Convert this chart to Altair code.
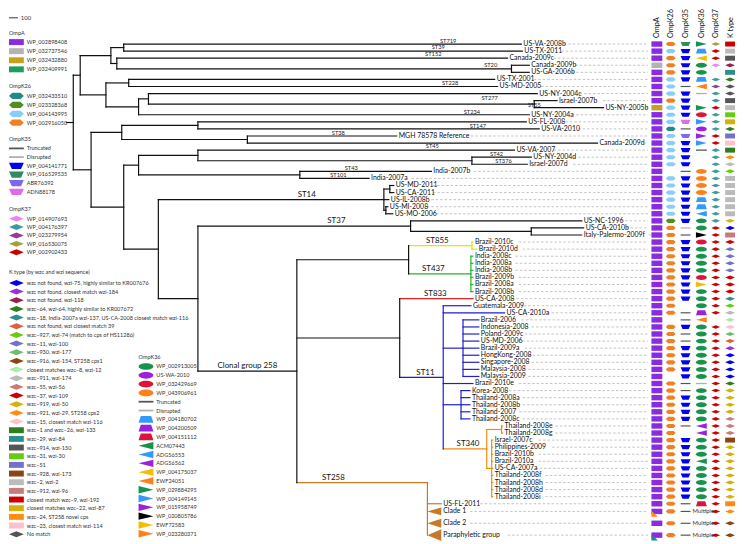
import altair as alt
import pandas as pd

W, H = 737, 536          # svg size (page px 8..745, 8..544)
FONT = "Lato"

# ---------------- data ----------------
leaves = ["US-VA-2008b", "US-TX-2011", "Canada-2009c", "Canada-2009b", "US-GA-2006b",
          "US-TX-2001", "US-MD-2005", "US-NY-2004c", "Israel-2007b", "US-NY-2005b",
          "US-NY-2004a", "US-FL-2008", "US-VA-2010", "MGH 78578 Reference", "Canada-2009d",
          "US-VA-2007", "US-NY-2004d", "Israel-2007d", "India-2007b", "India-2007a",
          "US-MD-2011", "US-CA-2011", "US-IL-2008b", "US-MI-2008", "US-MO-2006",
          "US-NC-1996", "US-CA-2010b", "Italy-Palermo-2009f", "Brazil-2010c", "Brazil-2010d",
          "India-2008c", "India-2008a", "India-2008b", "Brazil-2009b", "Brazil-2008a",
          "Brazil-2008b", "US-CA-2008", "Guatemala-2009", "US-CA-2010a", "Brazil-2006",
          "Indonesia-2008", "Poland-2009c", "US-MD-2006", "Brazil-2009a", "HongKong-2008",
          "Singapore-2008", "Malaysia-2008", "Malaysia-2009", "Brazil-2010e", "Korea-2008",
          "Thailand-2008a", "Thailand-2008b", "Thailand-2007", "Thailand-2008c", "Thailand-2008e",
          "Thailand-2008g", "Israel-2007c", "Philippines-2009", "Brazil-2010b", "Brazil-2010a",
          "US-CA-2007a", "Thailand-2008f", "Thailand-2008h", "Thailand-2008d", "Thailand-2008i",
          "US-FL-2011", "Clade 1", "Clade 2", "Paraphyletic group"]

ompA = ("P P P G P P P P P Y  P P P P P P P P P P  P P P P P P P P P P  P P P P P P P P P P  "
        "P P P P P P P P P P  P P P P P P P P P P  P P P P P P P P P").split()
ompK26 = ("O L O O O L L L O L  L L T L L L L L - L  L L L L L G O O O O  O O O O O O O O O -  "
          "O O O O O O O - O O  O O O O O O O O O O  O O O O O O O O O").split()
ompK35 = ("TG B B B B B T B B B  B V T S B B B B T B  B B B B B B D T B B  B B B B B B B - T T  "
          "B T T B B B B B T T  B B B B T - B B B B  B B B B B T T T T").split()
ompK36 = ("frG trB tlY eG eG trB tlO dis - frG  eC frB eP frP frB trn - - eO eO  "
          "eO eO trB trB tlB eG eG frK eC eG  eG eG eG eC frY eG eG eG trP tlO  "
          "eG eG eG eG eG eG eG eG dis eG  eG eG eG eG tlP tlP eG eG eG tlG  "
          "eG eG eG eG eG trC M M M").split()
ompK37 = ("ol rd rd vi - te pu te te rd  te te te rd rd te te te te te  te te te te te te rd rd rd rd  "
          "rd rd rd rd rd rd rd rd rd -  rd rd rd rd rd rd rd rd rd rd  rd rd rd rd rd rd rd rd rd rd  "
          "rd rd rd rd rd rd rd rd rd").split()
ktype = ("wzc9 wzc2 wzc914 wzi118 wzc29 wzc64 none none wzc914 wzc2  "
         "wzc31 wzc22 wzc64 wzc51 wzc23 wzc1 wzc921 wzc911 wzc927 wzc2  "
         "wzc2 wzc2 wzc2 wzc2 wzc2 wzc919 wzi75 wzc912 wzc37 wzc11  "
         "wzc11 wzc11 wzc11 wzc37 wzc37 wzc37 wzc18 wzc927 wzc911 wzc8  "
         "wzc15 wzc930 wzi39 wzi184 wzi75 wzi75 wzi75 wzi75 wzc64 wzc919  "
         "wzc919 wzc919 wzc919 wzc55 wzc55 wzc55 wzc928 wzc919 wzc919 wzc919  "
         "wzc919 wzc919 wzc919 wzc919 wzc919 wzc24 wzc921 wzc916 wzc916").split()
ompA_extra = {"Clade 1": "wzc24", "Paraphyletic group": "teal"}

# legends: (label, code)
leg_ompA = [("WP_002898408", "P"), ("WP_032737546", "G"), ("WP_032432880", "Y"), ("WP_032409991", "N")]
leg_ompK26 = [("WP_032433510", "T"), ("WP_023328368", "G"), ("WP_004143995", "L"), ("WP_002916050", "O")]
leg_ompK35 = [("Truncated", "T"), ("Disrupted", "D"), ("WP_004141771", "B"), ("WP_016529535", "TG"),
              ("ABR76392", "S"), ("ADN88178", "V")]
leg_ompK37 = [("WP_014907693", "vi"), ("WP_004176397", "te"), ("WP_023279954", "pu"),
              ("WP_016530075", "ol"), ("WP_002902433", "rd")]
leg_ktype = [("wzc not found, wzi-75, highly similar to KR007676", "wzi75"),
             ("wzc not found, closest match wzi-184", "wzi184"),
             ("wzc not found, wzi-118", "wzi118"),
             ("wzc\u221264, wzi-64, highly similar to KR007672", "wzc64"),
             ("wzc\u221218, India-2007a wzi-137, US-CA-2008 closest match wzi-116", "wzc18"),
             ("wzc not found, wzi closest match 39", "wzi39"),
             ("wzc\u2212927, wzi-74 (match to cps of HS11286)", "wzc927"),
             ("wzc\u221211, wzi-100", "wzc11"),
             ("wzc\u2212930, wzi-177", "wzc930"),
             ("wzc\u2212916, wzi-154, ST258 cps1", "wzc916"),
             ("closest matches wzc\u22128, wzi-12", "wzc8"),
             ("wzc\u2212911, wzi-174", "wzc911"),
             ("wzc\u221255, wzi-56", "wzc55"),
             ("wzc\u221237, wzi-109", "wzc37"),
             ("wzc\u2212919, wzi-50", "wzc919"),
             ("wzc\u2212921, wzi-29, ST258 cps2", "wzc921"),
             ("wzc\u221215, closest match wzi-116", "wzc15"),
             ("wzc\u22121 and wzc\u221226, wzi-133", "wzc1"),
             ("wzc\u221229, wzi-84", "wzc29"),
             ("wzc\u2212914, wzi-150", "wzc914"),
             ("wzc\u221231, wzi-30", "wzc31"),
             ("wzc\u221251", "wzc51"),
             ("wzc\u2212928, wzi-173", "wzc928"),
             ("wzc\u22122, wzi-2", "wzc2"),
             ("wzc\u2212912, wzi-96", "wzc912"),
             ("closest match wzc\u22129, wzi-192", "wzc9"),
             ("closest matches wzc\u221222, wzi-87", "wzc22"),
             ("wzc\u221224, ST258 novel cps", "wzc24"),
             ("wzc\u221223, closest match wzi-114", "wzc23"),
             ("No match", "none")]
leg_ompK36 = [("WP_002913005", "eG"), ("US-WA-2010", "eP"), ("WP_032429669", "eC"), ("WP_043906961", "eO"),
              ("Truncated", "trn"), ("Disrupted", "dis"), ("WP_004180702", "trB"), ("WP_004200509", "trP"),
              ("WP_004151112", "trC"), ("ACM07443", "tlG"), ("ADG56553", "tlB"), ("ADG56562", "tlP"),
              ("WP_004175037", "tlY"), ("EWF24051", "tlO"), ("WP_029884295", "frG"), ("WP_004149145", "frB"),
              ("WP_015958749", "frP"), ("WP_020805786", "frK"), ("EWF72583", "frY"), ("WP_023280371", "frO")]

# ---------------- tree (branch points / tips on the tree's distance axis) ----------------
def N(x, *kids, clade=None, key=None, lift=0):
    return {"x": x, "kids": list(kids), "clade": clade, "key": key, "lift": lift}

def L(name, x, clade=None, tri=None):
    return {"x": x, "leaf": name, "clade": clade, "tri": tri}

st437 = ["India-2008c", "India-2008a", "India-2008b", "Brazil-2009b", "Brazil-2008a", "Brazil-2008b"]
st11a = ["Brazil-2006", "Indonesia-2008", "Poland-2009c", "US-MD-2006", "Brazil-2009a",
         "HongKong-2008", "Singapore-2008", "Malaysia-2008", "Malaysia-2009"]
st11b = ["Korea-2008", "Thailand-2008a", "Thailand-2008b", "Thailand-2007", "Thailand-2008c"]
st340b = ["Israel-2007c", "Philippines-2009", "Brazil-2010b", "Brazil-2010a", "US-CA-2007a",
          "Thailand-2008f", "Thailand-2008h", "Thailand-2008d", "Thailand-2008i"]

tree = N(74,
  N(81,
    N(112,
      N(125, L("US-VA-2008b", 527), L("US-TX-2011", 528)),
      N(118, L("Canada-2009c", 513), N(517, L("Canada-2009b", 535), L("US-GA-2006b", 535)))),
    N(107,
      N(130, L("US-TX-2001", 500), L("US-MD-2005", 503)),
      N(140, N(150, L("US-NY-2004c", 543), N(540, L("Israel-2007b", 563), L("US-NY-2005b", 610))),
        L("US-NY-2004a", 535)))),
  N(92,
    N(123,
      N(200, L("US-FL-2008", 532), L("US-VA-2010", 545)),
      N(250, L("MGH 78578 Reference", 401), L("Canada-2009d", 604))),
    N(125,
      N(140,
        N(200, L("US-VA-2007", 520), N(477, L("US-NY-2004d", 537), L("Israel-2007d", 533))),
        N(303, L("India-2007b", 436), L("India-2007a", 373))),
      N(160,
        N(388, N(394, L("US-MD-2011", 398), L("US-CA-2011", 398)), L("US-IL-2008b", 393),
          N(390, L("US-MI-2008", 392), L("US-MO-2006", 397)), key="ST14"),
        N(200,
          N(415, L("US-NC-1996", 588), N(537, L("US-CA-2010b", 590), L("Italy-Palermo-2009f", 588)),
            key="ST37"),
          N(300,
            N(413,
              N(477, L("Brazil-2010c", 478), L("Brazil-2010d", 482), clade="ST855", key="ST855"),
              N(476, *[L(n, 478) for n in st437], clade="ST437", key="ST437")),
            N(404,
              L("US-CA-2008", 478, clade="ST833"),
              N(448, L("Guatemala-2009", 476), L("US-CA-2010a", 510),
                N(468, *[L(n, 484) for n in st11a]), L("Brazil-2010e", 478),
                N(466, *[L(n, 475) for n in st11b]),
                N(492, N(507, L("Thailand-2008e", 508), L("Thailand-2008g", 508)),
                  N(497, *[L(n, 498) for n in st340b]), clade="ST340", key="ST340"),
                clade="ST11", key="ST11")),
            N(432, L("US-FL-2011", 446), L("Clade 1", 446, tri=4), L("Clade 2", 446, tri=4.5),
              L("Paraphyletic group", 446, tri=6), clade="ST258", key="ST258", lift=3),
            key="CG258")))))
)

# small ST labels: (text, x, y)
st_small = [("ST719", 453, 38), ("ST39", 443, 45), ("ST152", 438, 52), ("ST20", 496, 63),
            ("ST228", 455, 81), ("ST277", 495, 96), ("ST55", 540, 103), ("ST234", 477, 110),
            ("ST147", 483, 124), ("ST38", 342, 131), ("ST45", 437, 145), ("ST42", 502, 153),
            ("ST376", 509, 160), ("ST43", 355, 167), ("ST101", 342, 174)]
# big labels placed over the branch leading to a clade: (text, clade key, x)
st_big = [("ST14", "ST14", 310), ("ST37", "ST37", 340), ("ST855", "ST855", 442), ("ST437", "ST437", 438),
          ("ST833", "US-CA-2008", 440), ("ST11", "ST11", 430), ("ST340", "ST340", 473),
          ("ST258", "ST258", 337), ("Clonal group 258", "CG258", 250)]

# ---------------- layout ----------------
ROW0, ROWH = 41.5, 7.15
special_y = {"Clade 1": 514, "Clade 2": 526, "Paraphyletic group": 538}
idx = {n: i for i, n in enumerate(leaves)}

def leaf_y(name):
    return special_y.get(name, ROW0 + idx[name] * ROWH)

CLADE_COL = {None: "#111111", "ST855": "#E4E400", "ST437": "#22B422", "ST833": "#E02222",
             "ST11": "#1E1ECC", "ST340": "#F28C0F", "ST258": "#C87828"}

rules, tips, tris = [], [], []
edge_y = {}

def lay(node, px, inh):
    clade = node.get("clade") or inh
    col = CLADE_COL[clade]
    if "leaf" in node:
        y = leaf_y(node["leaf"])
        edge_y[node["leaf"]] = y
        if node["tri"]:
            tris.append(dict(id=node["leaf"], x=px, y=y, y2=y, c=col))
            tris.append(dict(id=node["leaf"], x=node["x"], y=y - node["tri"], y2=y + node["tri"], c=col))
        else:
            rules.append(dict(x=px, x2=node["x"], y=y, y2=y, c=col))
        tips.append(dict(name=node["leaf"], x=node["x"], y=y))
        return y
    ys = [lay(k, node["x"], clade) for k in node["kids"]]
    if node["lift"]:
        y = ys[0] - node["lift"] * ROWH      # hand-collapsed clade: branch joins above the first tip
        top = y
    else:
        y = (ys[0] + ys[-1]) / 2
        top = ys[0]
    if node.get("key"):
        edge_y[node["key"]] = y
    rules.append(dict(x=node["x"], x2=node["x"], y=top, y2=ys[-1], c=col))
    if px != node["x"]:
        rules.append(dict(x=px, x2=node["x"], y=y, y2=y, c=col))
    return y

lay(tree, 67, None)
rules_df = pd.DataFrame(rules)
tips_df = pd.DataFrame(tips)
tips_df["lx"] = tips_df["x"] + 2
tips_df["dx"] = tips_df["lx"] + tips_df["name"].str.len() * 3.45 + 3
tips_df["dx2"] = 655
tris_df = pd.DataFrame(tris)

# ---------------- styles ----------------
P = {
    "rectL": "M-1,-0.4H1V0.4H-1Z",
    "rectM": "M-1,-0.5H1V0.5H-1Z",
    "hex": "M-1,0L-0.55,-0.42H0.55L1,0L0.55,0.42H-0.55Z",
    "bucket": "M-1,-0.42H1L0.62,0.42H-0.62Z",
    "line": "M-1,-0.12H1V0.12H-1Z",
    "diamond": "M-1,0L0,-0.4L1,0L0,0.4Z",
    "ellipse": "M-1,0A1,0.45,0,1,1,1,0A1,0.45,0,1,1,-1,0Z",
    "trap": "M-0.7,-0.45H0.7L1,0.45H-1Z",
    "tleft": "M-1,0L1,-0.5V0.5Z",
    "fright": "M-1,-0.5L1,0L-1,0.5Z",
    "corner": "M-1,1V-0.1L0.2,1Z",
}
STY_A = {"P": ("rect", "#8A2BE2"), "G": ("rect", "#B3B3B3"), "Y": ("rect", "#C9A01E"), "N": ("rect", "#1E9E5A")}
STY_K26 = {"T": ("hex", "#1F8A8A"), "G": ("hex", "#4E8F1E"), "L": ("hex", "#87CEFA"), "O": ("hex", "#F08020")}
STY_K35 = {"T": ("line", "#555555"), "D": ("line", "#B0B0B0"), "B": ("bucket", "#0000F0"),
           "TG": ("bucket", "#2E8B62"), "S": ("bucket", "#7B68EE"), "V": ("bucket", "#E06AE8")}
STY_K37 = {"vi": ("diamond", "#EE82EE"), "te": ("diamond", "#3C9C9C"), "pu": ("diamond", "#953C95"),
           "ol": ("diamond", "#A3A13E"), "rd": ("diamond", "#CC0000")}
KCOL = {"wzi75": "#0000EE", "wzi184": "#9B30D9", "wzi118": "#A11E44", "wzc64": "#2D7E1F", "wzc18": "#2E8E8E",
        "wzi39": "#E0603A", "wzc927": "#66CC11", "wzc11": "#7272CC", "wzc930": "#6CC06C", "wzc916": "#8B4513",
        "wzc8": "#A6F0A6", "wzc911": "#BBBBBB", "wzc55": "#C97A7A", "wzc37": "#CC0000", "wzc919": "#D4B00A",
        "wzc921": "#FF8C10", "wzc15": "#FFC0CB", "wzc1": "#2E7D1E", "wzc29": "#2E8E8E", "wzc914": "#555555",
        "wzc31": "#66CC11", "wzc51": "#7272CC", "wzc928": "#8B4513", "wzc2": "#BBBBBB", "wzc912": "#C97A7A",
        "wzc9": "#CC0000", "wzc22": "#D4B00A", "wzc24": "#FF8C10", "wzc23": "#FFC0CB", "none": "#555555"}
RECT_K = {"wzc1", "wzc29", "wzc914", "wzc31", "wzc51", "wzc928", "wzc2", "wzc912", "wzc9", "wzc22", "wzc24", "wzc23"}
STY_KT = {k: ("rect" if k in RECT_K else "diamond", c) for k, c in KCOL.items()}
K36COL = {"G": "#17934E", "P": "#9B20E0", "C": "#DC143C", "O": "#FF7F1A", "B": "#3399FF", "Y": "#F0C000", "K": "#000000"}
STY_K36 = {"trn": ("line", "#555555"), "dis": ("line", "#B0B0B0")}
for k in ["eG", "eP", "eC", "eO"]:
    STY_K36[k] = ("ellipse", K36COL[k[1]])
for k in ["trB", "trP", "trC"]:
    STY_K36[k] = ("trap", K36COL[k[2]])
for k in ["tlG", "tlB", "tlP", "tlY", "tlO"]:
    STY_K36[k] = ("tleft", K36COL[k[2]])
for k in ["frG", "frB", "frP", "frK", "frY", "frO"]:
    STY_K36[k] = ("fright", K36COL[k[2]])

def path(shape, legend):
    if shape == "rect":
        return P["rectL"] if legend else P["rectM"]
    return P[shape]

# ---------------- matrix ----------------
COLS = [("OmpA", 664, ompA, STY_A, 11), ("OmpK26", 678, ompK26, STY_K26, 10),
        ("OmpK35", 693, ompK35, STY_K35, 10), ("OmpK36", 709, ompK36, STY_K36, 11),
        ("OmpK37", 723.5, ompK37, STY_K37, 9), ("K type", 738, ktype, STY_KT, 10)]
cells, multi = [], []
for name, cx, vals, sty, w in COLS:
    for leaf, v in zip(leaves, vals):
        y = leaf_y(leaf)
        if v == "M":
            multi.append(dict(x=cx - 9, y=y, t="Multiple"))
            continue
        if v not in sty:
            continue
        shp, c = sty[v]
        cells.append(dict(x=cx, y=y, p=path(shp, False), c=c, s=w * w))
for leaf, code in ompA_extra.items():
    c = KCOL.get(code, "#1F8A8A")
    cells.append(dict(x=664, y=leaf_y(leaf), p=P["corner"], c=c, s=121))
cells_df = pd.DataFrame(cells)
multi_df = pd.DataFrame(multi)
head_df = pd.DataFrame([dict(x=cx + 0.5, y=35.5, t=n) for n, cx, *_ in COLS])

# ---------------- legends ----------------
LX = 9
blocks = [("OmpA", leg_ompA, STY_A, LX, 30, 39.5, 9.2),
          ("OmpK26", leg_ompK26, STY_K26, LX, 84, 94, 9.0),
          ("OmpK35", leg_ompK35, STY_K35, LX, 138, 147, 8.8),
          ("OmpK37", leg_ompK37, STY_K37, LX, 208, 218, 8.5),
          ("K type (by wzc and wzi sequence)", leg_ktype, STY_KT, LX, 272, 283, 8.76),
          ("OmpK36", leg_ompK36, STY_K36, 140, 358, 367.5, 8.9)]
lsym, ltxt = [], []
for title, entries, sty, x0, ty, y0, step in blocks:
    ltxt.append(dict(x=x0, y=ty, t=title))
    for i, (lab, code) in enumerate(entries):
        shp, c = sty[code]
        y = y0 + i * step
        lsym.append(dict(x=x0 + 7.5, y=y, p=path(shp, True), c=c, s=225))
        ltxt.append(dict(x=x0 + 18, y=y, t=lab))
lsym_df = pd.DataFrame(lsym)
ltxt_df = pd.DataFrame(ltxt)

st_df = pd.DataFrame([dict(t=t, x=x, y=y) for t, x, y in st_small])
stb_df = pd.DataFrame([dict(t=t, x=x, y=edge_y[k] - 4.8) for t, k, x in st_big])
bar_df = pd.DataFrame([dict(x=9, x2=18, y=15, y2=15)])
bar_txt = pd.DataFrame([dict(x=21, y=15, t="100")])

# ---------------- chart ----------------
XS = alt.Scale(domain=[8, 8 + W], range=[0, W])
YS = alt.Scale(domain=[8, 8 + H], range=[0, H])
def X(f="x"): return alt.X(f"{f}:Q", scale=XS, axis=None)
def Y(f="y"): return alt.Y(f"{f}:Q", scale=YS, axis=None)

lead = alt.Chart(tips_df).mark_rule(color="#9A9A9A", strokeWidth=0.6, strokeDash=[2.5, 2]).encode(
    x=X("dx"), x2="dx2:Q", y=Y())
tree_r = alt.Chart(rules_df).mark_rule(strokeWidth=1.2, strokeCap="square").encode(
    x=X(), x2="x2:Q", y=Y(), y2="y2:Q", color=alt.Color("c:N", scale=None))
tri_l = alt.Chart(tris_df).mark_area(orient="vertical", opacity=1).encode(
    x=X(), y=Y(), y2="y2:Q", detail="id:N", color=alt.Color("c:N", scale=None))
tip_t = alt.Chart(tips_df).mark_text(align="left", baseline="middle", fontSize=7, font=FONT, color="#111").encode(
    x=X("lx"), y=Y(), text="name:N")
st_t = alt.Chart(st_df).mark_text(align="center", baseline="middle", fontSize=5.8, font=FONT, color="#222").encode(
    x=X(), y=Y(), text="t:N")
stb_t = alt.Chart(stb_df).mark_text(align="center", baseline="middle", fontSize=8, font=FONT, color="#111").encode(
    x=X(), y=Y(), text="t:N")
cells_m = alt.Chart(cells_df).mark_point(filled=True, opacity=1, strokeWidth=0).encode(
    x=X(), y=Y(), shape=alt.Shape("p:N", scale=None), color=alt.Color("c:N", scale=None),
    size=alt.Size("s:Q", scale=None))
multi_t = alt.Chart(multi_df).mark_text(align="left", baseline="middle", fontSize=6, font=FONT, color="#333").encode(
    x=X(), y=Y(), text="t:N")
head_t = alt.Chart(head_df).mark_text(align="left", baseline="middle", angle=270, fontSize=7.4, font=FONT,
                                      color="#111").encode(x=X(), y=Y(), text="t:N")
lsym_m = alt.Chart(lsym_df).mark_point(filled=True, opacity=1, strokeWidth=0).encode(
    x=X(), y=Y(), shape=alt.Shape("p:N", scale=None), color=alt.Color("c:N", scale=None),
    size=alt.Size("s:Q", scale=None))
ltxt_t = alt.Chart(ltxt_df).mark_text(align="left", baseline="middle", fontSize=5.6, font=FONT, color="#333").encode(
    x=X(), y=Y(), text="t:N")
bar_r = alt.Chart(bar_df).mark_rule(color="#333", strokeWidth=1).encode(x=X(), x2="x2:Q", y=Y())
bar_t = alt.Chart(bar_txt).mark_text(align="left", baseline="middle", fontSize=6, font=FONT, color="#333").encode(
    x=X(), y=Y(), text="t:N")

chart = alt.layer(lead, tree_r, tri_l, tip_t, st_t, stb_t, cells_m, multi_t, head_t,
                  lsym_m, ltxt_t, bar_r, bar_t).properties(
    width=W, height=H, padding=0, autosize=alt.AutoSizeParams(type="none")
).configure_view(stroke=None)

chart.save("out.html", embed_options={"renderer": "svg", "actions": False})
